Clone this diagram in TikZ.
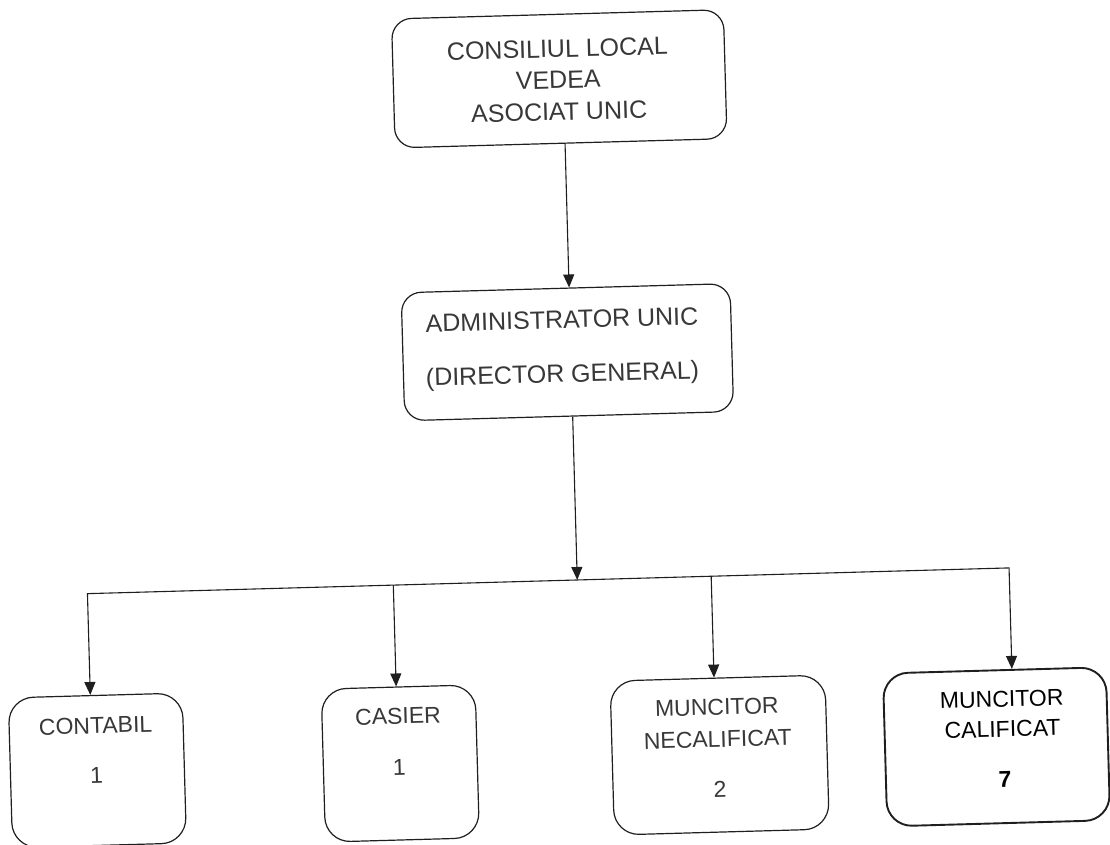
\documentclass[tikz,border=0pt]{standalone}
\usepackage{fontspec}
\setmainfont{Liberation Sans}
\usetikzlibrary{arrows.meta,calc}
\definecolor{ink}{rgb}{0.12,0.12,0.12}
\definecolor{txt}{rgb}{0.22,0.22,0.22}
\begin{document}
\begin{tikzpicture}[x=1pt,y=-1pt,
  box/.style={draw=ink,line width=1.2pt,rounded corners=#1,inner sep=0pt},
  box/.default=20pt,
  conn/.style={draw=ink,line width=1.1pt},
  arr/.style={conn,-{Triangle[length=13pt,width=11pt]}},
  big/.style={font=\fontsize{25}{30}\selectfont,text=txt,anchor=base,inner sep=0pt},
  small/.style={font=\fontsize{23}{28}\selectfont,text=txt,anchor=base,inner sep=0pt}]
\fill[white] (0,0) rectangle (1110,844);
\useasboundingbox (0,0) rectangle (1110,844);
\begin{scope}[transform canvas={rotate around={1.6:(575,500)}}]
% top boxes
\node[box,minimum width=332pt,minimum height=129pt] (top) at (571,78.5) {};
\node[big] (t1) at (570,57) {CONSILIUL LOCAL};
\node[big] (t2) at (570,88) {VEDEA};
\node[big] (t3) at (570,120) {ASOCIAT UNIC};
\node[box,minimum width=329pt,minimum height=128pt] (mid) at (571.5,352) {};
\node[big] (m1) at (567,328) {ADMINISTRATOR UNIC};
\node[big] (m2) at (566,382) {(DIRECTOR GENERAL)};
% bottom boxes
\node[box=25pt,minimum width=174pt,minimum height=150pt] (b1) at (90,757) {};
\node[small] (b1a) at (89.5,720) {CONTABIL};
\node[small] (b1b) at (89,770) {1};
\node[box=25pt,minimum width=154pt,minimum height=153pt] (b2) at (393,758.5) {};
\node[small] (b2a) at (392,719) {CASIER};
\node[small] (b2b) at (392,770) {1};
\node[box=25pt,minimum width=215pt,minimum height=154pt] (b3) at (712.5,759) {};
\node[small] (b3a) at (711,719) {MUNCITOR};
\node[small] (b3b) at (711,751) {NECALIFICAT};
\node[small] (b3c) at (712,801) {2};
\node[box=25pt,line width=1.9pt,minimum width=223pt,minimum height=153pt] (b4) at (989.5,758.5) {};
\node[small,text=black] (b4a) at (996,719) {MUNCITOR};
\node[small,text=black] (b4b) at (996,749) {CALIFICAT};
\node[small,text=black,font=\fontsize{23}{28}\selectfont\bfseries] (b4c) at (997,799) {7};
% connectors
\coordinate (k0) at (575,200);
\coordinate (k) at (575,580);
\coordinate (j1) at (85,580);
\coordinate (j2) at (391,580);
\coordinate (j3) at (709,580);
\coordinate (j4) at (1007,580);
\draw[arr] (k0 |- top.south) -- (k0 |- mid.north);
\draw[arr] (k |- mid.south) -- (k);
\draw[arr] (j2) -- (j1) -- (j1 |- b1.north);
\draw[conn] (j2) -- (j3);
\draw[arr] (j3) -- (j4) -- (j4 |- b4.north);
\draw[arr] (j2) -- (j2 |- b2.north);
\draw[arr] (j3) -- (j3 |- b3.north);
\end{scope}
\end{tikzpicture}
\end{document}
